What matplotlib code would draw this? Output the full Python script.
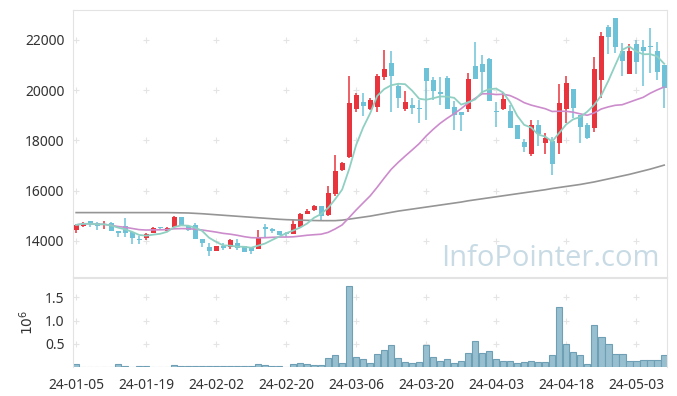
import numpy as np
import pandas as pd
import matplotlib
matplotlib.use("Agg")
import matplotlib.pyplot as plt

plt.rcParams['font.family'] = ['Noto Sans', 'DejaVu Sans']

# daily candles, 85 trading days from 24-01-05
opens = [14440, 14610, 14800, 14700, 14620, 14700, 14400, 14610, 14370, 14070,
         14130, 14330, 14540, 14410, 14570, 14970, 14600, 14640, 14080, 13770,
         13610, 13810, 13750, 13910, 13810, 13710, 13670, 14550, 14480, 14410,
         14330, 14270, 14570, 15070, 15230, 15400, 15040, 15860, 16830, 17360,
         19250, 19540, 19250, 19340, 20540, 21100, 20180, 19250, 19410, 19290,
         20900, 20410, 19920, 20470, 19320, 19130, 19250, 20960, 21040, 21240,
         19160, 19250, 19160, 18620, 17950, 17450, 18620, 17910, 17980, 17890,
         19270, 20040, 19010, 18620, 18500, 20390, 22500, 22890, 21550, 20640,
         21840, 21710, 21780, 21560, 21000]
highs = [14680, 14760, 14810, 14760, 14800, 14760, 14400, 14900, 14370, 14190,
         14320, 14560, 14560, 14560, 15010, 14970, 14640, 14700, 14080, 13930,
         13810, 13910, 14080, 14070, 13810, 13770, 14420, 14660, 14530, 14410,
         14360, 14830, 15100, 15280, 15440, 15400, 16190, 17430, 17160, 20580,
         19900, 19910, 19700, 20650, 21600, 21550, 20250, 19980, 19700, 19620,
         20900, 20540, 20530, 20550, 19580, 19130, 20680, 21910, 21400, 21300,
         19540, 19880, 19400, 18620, 18050, 18800, 18820, 18300, 18150, 20250,
         20580, 20040, 19010, 18680, 21340, 22330, 22600, 22890, 21880, 21850,
         22000, 22000, 22460, 21930, 21000]
lows = [14320, 14550, 14570, 14430, 14480, 14410, 14170, 14170, 13870, 13870,
        14050, 14330, 14430, 14380, 14570, 14580, 14400, 14080, 13780, 13400,
        13610, 13640, 13690, 13650, 13570, 13500, 13670, 14150, 14300, 14240,
        14170, 14270, 14530, 15070, 15200, 14830, 14980, 15780, 16800, 17290,
        19150, 18990, 19200, 19140, 20400, 19150, 19300, 19180, 19040, 18680,
        18820, 19610, 19420, 19250, 18420, 18360, 19150, 20430, 19880, 19580,
        18520, 19200, 18500, 18060, 17550, 17400, 17800, 17450, 16630, 17450,
        18700, 18880, 17900, 18050, 18350, 19700, 21430, 21500, 20560, 20640,
        20640, 20170, 20670, 20400, 19280]
closes = [14640, 14730, 14680, 14610, 14660, 14410, 14300, 14330, 14130, 14030,
          14270, 14500, 14500, 14530, 14970, 14610, 14440, 14080, 13910, 13600,
          13800, 13730, 14040, 13710, 13570, 13610, 14150, 14470, 14410, 14240,
          14280, 14680, 15070, 15210, 15400, 15010, 15900, 16800, 17120, 19480,
          19810, 19380, 19610, 20570, 20850, 20580, 19680, 19520, 19280, 19250,
          20380, 19980, 19870, 19250, 19010, 19030, 20450, 20430, 20720, 19580,
          19150, 19650, 18500, 18060, 17750, 18620, 18250, 18110, 17050, 19480,
          20300, 19280, 18550, 18110, 20850, 22160, 22130, 21710, 21180, 21560,
          21140, 21570, 21740, 20740, 20080]
volumes = [0.07, 0.01, 0.01, 0.01, 0.01, 0.01, 0.06, 0.025, 0.01, 0.02,
           0.02, 0.01, 0.01, 0.01, 0.04, 0.02, 0.02, 0.02, 0.02, 0.02,
           0.02, 0.02, 0.02, 0.02, 0.02, 0.02, 0.06, 0.05, 0.02, 0.02,
           0.01, 0.06, 0.08, 0.06, 0.04, 0.04, 0.20, 0.25, 0.09, 1.75,
           0.22, 0.18, 0.09, 0.28, 0.37, 0.48, 0.20, 0.11, 0.09, 0.11,
           0.48, 0.22, 0.13, 0.18, 0.09, 0.13, 0.31, 0.56, 0.31, 0.35,
           0.18, 0.13, 0.13, 0.09, 0.11, 0.13, 0.11, 0.11, 0.25, 1.29,
           0.50, 0.33, 0.25, 0.07, 0.91, 0.65, 0.50, 0.27, 0.27, 0.13,
           0.13, 0.15, 0.15, 0.15, 0.25]
# long moving average (needs history before the window)
ma_long = [15130, 15130, 15130, 15130, 15130, 15130, 15130, 15130, 15130, 15130,
           15130, 15130, 15130, 15130, 15125, 15120, 15115, 15100, 15085, 15065,
           15045, 15025, 15005, 14985, 14965, 14945, 14925, 14905, 14885, 14865,
           14850, 14840, 14830, 14822, 14815, 14810, 14810, 14810, 14830, 14870,
           14910, 14950, 14990, 15040, 15090, 15140, 15190, 15230, 15270, 15310,
           15350, 15390, 15430, 15470, 15510, 15550, 15600, 15640, 15680, 15720,
           15760, 15800, 15840, 15880, 15920, 15960, 16000, 16040, 16090, 16130,
           16170, 16210, 16250, 16300, 16350, 16410, 16470, 16530, 16590, 16650,
           16720, 16790, 16860, 16940, 17020]
tick_pos = [0, 10, 20, 30, 40, 50, 60, 70, 80]
tick_labels = ['24-01-05', '24-01-19', '24-02-02', '24-02-20', '24-03-06',
               '24-03-20', '24-04-03', '24-04-18', '24-05-03']
price_ticks = [14000, 16000, 18000, 20000, 22000]
vol_ticks = [0.5, 1.0, 1.5]

df = pd.DataFrame({'open': opens, 'high': highs, 'low': lows, 'close': closes})
ma5 = df['close'].rolling(5, min_periods=1).mean()
ma20 = df['close'].rolling(20, min_periods=1).mean()
x = np.arange(len(df))

up_col = '#e8343c'
down_col = '#6ec2d8'
grid_col = '#e4e4e4'
spine_col = '#e3e3e3'

fig = plt.figure(figsize=(6.77, 3.96), dpi=100)
ax = fig.add_axes([0.1078, 0.3005, 0.8774, 0.6742])
axv = fig.add_axes([0.1078, 0.0732, 0.8774, 0.2248])

up = df['close'] >= df['open']
cols = np.where(up, up_col, down_col)
body_lo = np.minimum(df['open'], df['close'])
body_h = np.maximum(np.abs(df['close'] - df['open']), 25)
ax.vlines(x, df['low'], df['high'], colors=cols, linewidth=1.1, zorder=2)
ax.bar(x, body_h, bottom=body_lo, width=0.72, color=cols, zorder=3)

ax.plot(x, ma_long, color='#959595', lw=1.2, zorder=4)
ax.plot(x, ma20, color='#cc8ccc', lw=1.2, zorder=4)
ax.plot(x, ma5, color='#8fd0c2', lw=1.3, zorder=4)

ax.text(0.988, 0.04, 'InfoPointer.com', transform=ax.transAxes, ha='right',
        va='baseline', fontsize=21, color='#c8dbe5', family=['Open Sans', 'DejaVu Sans'])

axv.bar(x, volumes, width=0.95, color='#97bfcf', edgecolor='#6e9fb4', linewidth=0.8)

for a in (ax, axv):
    a.set_xlim(-0.45, 84.4)
    a.set_xticks(tick_pos)
    for s in a.spines.values():
        s.set_color(spine_col)
    a.tick_params(length=0, colors='#333333', labelsize=10)

ax.set_ylim(12567, 23193)
ax.set_yticks(price_ticks)
ax.set_xticklabels([])
ax.tick_params(axis='y', pad=6)
gx, gy = np.meshgrid(tick_pos, price_ticks)
ax.scatter(gx.ravel(), gy.ravel(), marker='+', s=20, color=grid_col, lw=0.8, zorder=1)

axv.set_ylim(0, 1.92)
axv.set_yticks(vol_ticks)
axv.set_yticklabels(['0.5', '1.0', '1.5'])
axv.set_xticklabels(tick_labels)
axv.tick_params(axis='x', pad=8)
axv.tick_params(axis='y', pad=6)
axv.spines['bottom'].set_visible(False)
axv.set_ylabel(r'$10^6$', fontsize=10, color='#333333', labelpad=6)
gx, gy = np.meshgrid(tick_pos, vol_ticks)
axv.scatter(gx.ravel(), gy.ravel(), marker='+', s=20, color=grid_col, lw=0.8, zorder=0)

fig.savefig('out.png', dpi=100)
